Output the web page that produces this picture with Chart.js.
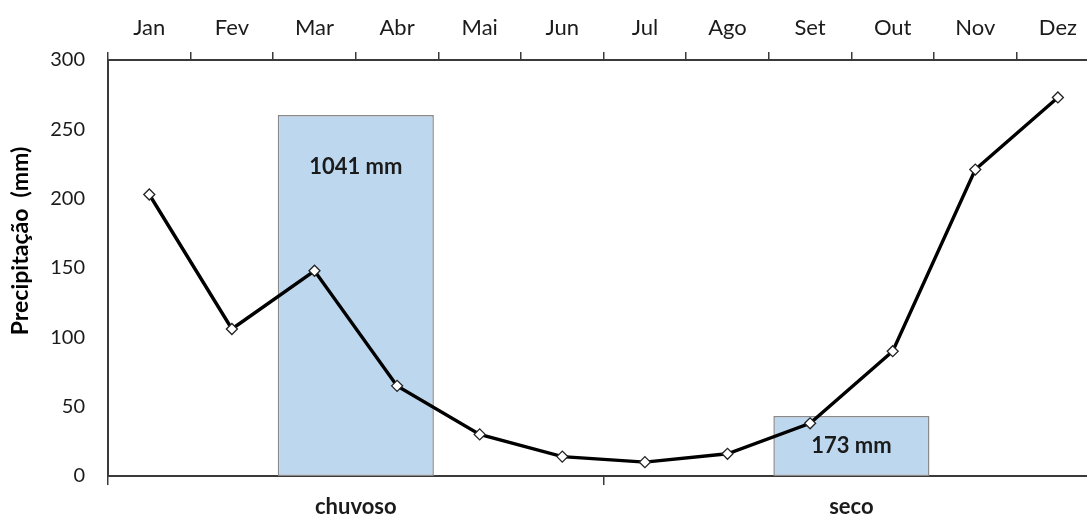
<!DOCTYPE html>
<html>
<head>
<meta charset="utf-8">
<script src="https://cdn.jsdelivr.net/npm/chart.js@4/dist/chart.umd.min.js"></script>
<style>
  html, body { margin: 0; padding: 0; background: #fff; overflow: hidden; }
  #wrap { width: 1106px; height: 515px; }
</style>
</head>
<body>
<div id="wrap"><canvas id="c" width="1106" height="515"></canvas></div>
<script>
// Monthly rainfall (mm)
const months = ['Jan', 'Fev', 'Mar', 'Abr', 'Mai', 'Jun', 'Jul', 'Ago', 'Set', 'Out', 'Nov', 'Dez'];
const rainfall = [203, 106, 148, 65, 30, 14, 10, 16, 38, 90, 221, 273];

// Seasonal totals (mm): rainy Out–Mar, dry Abr–Set
const seasons = ['chuvoso', 'seco'];
const seasonTotals = [1041, 173];

// Left axis ticks
const yTicks = [0, 50, 100, 150, 200, 250, 300];

const FONT = 'Lato, "Open Sans", sans-serif';
const INK = '#1b1b1b';
const AXIS = '#3a3a3a';

// Writes "<total> mm" on each seasonal bar
const seasonLabels = {
  id: 'seasonLabels',
  afterDatasetsDraw(chart, args, opts) {
    const meta = chart.getDatasetMeta(1);
    const ctx = chart.ctx;
    ctx.save();
    ctx.font = 'bold 22px ' + FONT;
    ctx.fillStyle = INK;
    ctx.textAlign = 'center';
    ctx.textBaseline = 'middle';
    meta.data.forEach((bar, i) => {
      const top = bar.y, bottom = bar.base;
      const y = opts.placement[i] === 'top' ? top + opts.topInset : (top + bottom) / 2;
      ctx.fillText(seasonTotals[i] + ' mm', bar.x, y);
    });
    ctx.restore();
  }
};

// Vertical axis title
const yTitle = {
  id: 'yTitle',
  afterDraw(chart, args, opts) {
    const ctx = chart.ctx;
    const ca = chart.chartArea;
    ctx.save();
    ctx.translate(opts.x, (ca.top + ca.bottom) / 2 + opts.shift);
    ctx.rotate(-Math.PI / 2);
    ctx.font = 'bold 23px ' + FONT;
    ctx.fillStyle = '#000';
    ctx.textAlign = 'center';
    ctx.textBaseline = 'middle';
    ctx.fillText(opts.text, 0, 0);
    ctx.restore();
  }
};

new Chart(document.getElementById('c'), {
  type: 'bar',
  data: {
    datasets: [
      {
        type: 'line',
        data: rainfall,
        xAxisID: 'xMonth',
        yAxisID: 'y',
        order: 0,
        borderColor: '#000',
        borderWidth: 3.4,
        tension: 0,
        pointStyle: 'rectRot',
        pointRadius: 5.5,
        pointBorderWidth: 1.3,
        pointBackgroundColor: '#fff',
        pointBorderColor: '#222'
      },
      {
        type: 'bar',
        data: seasonTotals,
        xAxisID: 'xSeason',
        yAxisID: 'yTotal',
        order: 1,
        grouped: false,
        backgroundColor: '#bdd7ee',
        borderColor: '#8a8a8a',
        borderWidth: 1.5,
        borderSkipped: false,
        categoryPercentage: 1,
        barPercentage: 0.315
      }
    ]
  },
  options: {
    responsive: false,
    animation: false,
    devicePixelRatio: 1,
    layout: { padding: { left: 0, right: 1, top: 0, bottom: 0 } },
    plugins: {
      legend: { display: false },
      tooltip: { enabled: false },
      seasonLabels: { placement: ['top', 'center'], topInset: 52 },
      yTitle: { text: 'Precipitação  (mm)', x: 21, shift: -27 }
    },
    scales: {
      xMonth: {
        type: 'category',
        labels: months,
        position: 'top',
        offset: true,
        afterFit(s) { s.height = 60; },
        grid: {
          display: true,
          offset: true,
          drawOnChartArea: false,
          drawTicks: true,
          tickLength: 8,
          color: AXIS,
          lineWidth: 1.5
        },
        border: { display: true, color: AXIS, width: 2 },
        ticks: { color: INK, font: { family: FONT, size: 22 }, padding: 11, maxRotation: 0, autoSkip: false }
      },
      xSeason: {
        type: 'category',
        labels: seasons,
        position: 'bottom',
        offset: true,
        afterFit(s) { s.height = 39; },
        grid: {
          display: true,
          offset: true,
          drawOnChartArea: false,
          drawTicks: true,
          tickLength: 9,
          color: AXIS,
          lineWidth: 1.5
        },
        border: { display: true, color: AXIS, width: 2 },
        ticks: { color: INK, font: { family: FONT, size: 22, weight: 'bold' }, padding: 9, maxRotation: 0 }
      },
      y: {
        type: 'linear',
        position: 'left',
        min: 0,
        max: 300,
        afterFit(s) { s.width = 108; },
        afterBuildTicks(s) { s.ticks = yTicks.map(v => ({ value: v })); },
        grid: { display: false, drawTicks: false },
        border: { display: true, color: AXIS, width: 2 },
        ticks: { color: INK, font: { family: FONT, size: 20 }, padding: 23 }
      },
      yTotal: {
        type: 'linear',
        display: false,
        min: 0,
        max: 1200
      }
    }
  },
  plugins: [seasonLabels, yTitle]
});
</script>
</body>
</html>
